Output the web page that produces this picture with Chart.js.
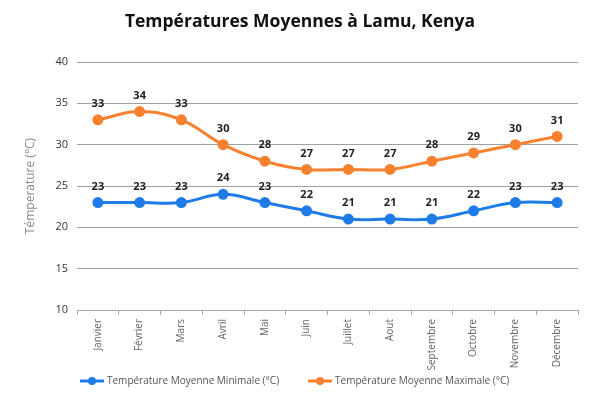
<!DOCTYPE html>
<html><head><meta charset="utf-8">
<script src="https://cdn.jsdelivr.net/npm/chart.js@4"></script>
<style>html,body{margin:0;padding:0;background:#fff}#wrap{width:600px;height:399px}</style>
</head><body><div id="wrap"><canvas id="c" width="600" height="399"></canvas></div>
<script>
const months = ["Janvier","Février","Mars","Avril","Mai","Juin","Juillet","Aout","Septembre","Octobre","Novembre","Décembre"];
const minTemps = [23,23,23,24,23,22,21,21,21,22,23,23];
const maxTemps = [33,34,33,30,28,27,27,27,28,29,30,31];
const yTicks = [10,15,20,25,30,35,40];
const seriesNames = ["Température Moyenne Minimale (°C)","Température Moyenne Maximale (°C)"];
const blue = "#1f7be8", orange = "#f7812f";

const valueLabels = {
  id:'valueLabels',
  afterDatasetsDraw(chart){
    const ctx = chart.ctx;
    ctx.save();
    ctx.font = "bold 11px 'Open Sans', sans-serif";
    ctx.fillStyle = "#222";
    ctx.textAlign = "center"; ctx.textBaseline = "middle";
    chart.data.datasets.forEach((ds,i)=>{
      chart.getDatasetMeta(i).data.forEach((pt,j)=>{
        ctx.fillText(ds.data[j], pt.x, pt.y - 16);
      });
    });
    ctx.restore();
  }
};

const bottomLegend = {
  id:'bottomLegend',
  afterDraw(chart){
    const ctx = chart.ctx;
    ctx.save();
    ctx.font = "10px 'Open Sans', sans-serif";
    ctx.textBaseline = "middle"; ctx.textAlign = "left";
    const y = 381;
    let x = 80;
    chart.data.datasets.forEach(ds=>{
      ctx.strokeStyle = ds.borderColor; ctx.lineWidth = 3;
      ctx.beginPath(); ctx.moveTo(x, y); ctx.lineTo(x+24, y); ctx.stroke();
      ctx.fillStyle = ds.borderColor;
      ctx.beginPath(); ctx.arc(x+12, y, 4, 0, Math.PI*2); ctx.fill();
      ctx.fillStyle = "#555";
      ctx.fillText(ds.label, x+27, y);
      x += 27 + ctx.measureText(ds.label).width + 29;
    });
    ctx.restore();
  }
};

new Chart(document.getElementById('c'), {
  type:'line',
  data:{labels:months, datasets:[
    {label:seriesNames[0], data:minTemps, borderColor:blue, backgroundColor:blue, borderWidth:3, pointRadius:4, pointHoverRadius:4, tension:0.4, fill:false},
    {label:seriesNames[1], data:maxTemps, borderColor:orange, backgroundColor:orange, borderWidth:3, pointRadius:4, pointHoverRadius:4, tension:0.4, fill:false}
  ]},
  options:{
    responsive:false, animation:false, devicePixelRatio:1,
    layout:{padding:{left:0,right:0,top:0,bottom:28}},
    plugins:{
      title:{display:true, text:"Températures Moyennes à Lamu, Kenya", color:"#111",
        font:{family:"'Open Sans', sans-serif", size:17.5, weight:'bold'}, padding:{top:12,bottom:29}},
      legend:{display:false},
      tooltip:{enabled:false}
    },
    scales:{
      y:{min:10, max:40, afterBuildTicks(s){s.ticks = yTicks.map(v=>({value:v}));},
        afterFit(s){s.width = 77;},
        grid:{color:"#a0a0a0", drawTicks:false, lineWidth:1},
        border:{display:false},
        ticks:{color:"#333", padding:9, font:{family:"'Open Sans', sans-serif", size:11}},
        title:{display:true, text:"Témperature (°C)", color:"#888", font:{family:"'Open Sans', sans-serif", size:12}, padding:{top:23,bottom:0}}
      },
      yR:{position:'right', display:true, afterFit(s){s.width = 22;},
        grid:{display:false, drawTicks:false}, border:{display:false}, ticks:{display:false}},
      x:{offset:true, afterFit(s){s.height = 61;},
        grid:{offset:true, drawOnChartArea:false, drawTicks:true, tickLength:5, color:"#aaa"},
        border:{display:true, color:"#aaa", width:1},
        ticks:{color:"#666", maxRotation:90, minRotation:90, padding:4, font:{family:"'Open Sans', sans-serif", size:10}}
      }
    }
  },
  plugins:[valueLabels, bottomLegend]
});
</script></body></html>
